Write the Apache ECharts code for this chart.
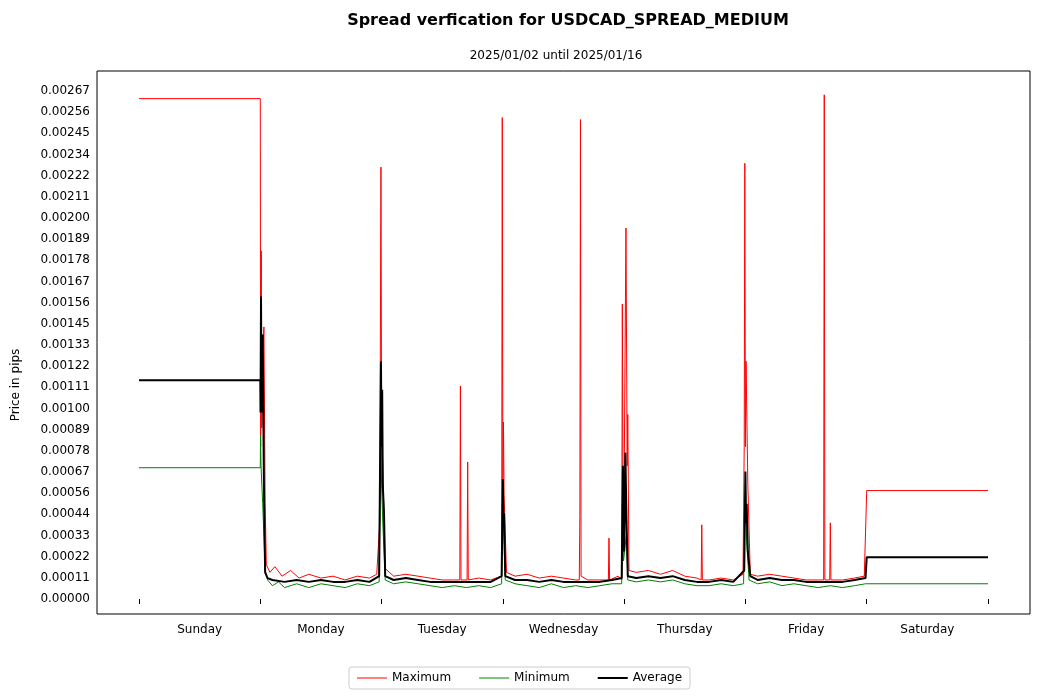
<!DOCTYPE html>
<html><head><meta charset="utf-8">
<script src="https://cdn.jsdelivr.net/npm/echarts@6/dist/echarts.min.js"></script>
<style>html,body{margin:0;background:#fff}#c{width:1039px;height:700px}</style>
</head><body><div id="c"></div>
<script>
const days = ['Sunday','Monday','Tuesday','Wednesday','Thursday','Friday','Saturday'];
const tickLabels = ['0.00000','0.00011','0.00022','0.00033','0.00044','0.00056','0.00067','0.00078','0.00089','0.00100','0.00111','0.00122','0.00133','0.00145','0.00156','0.00167','0.00178','0.00189','0.00200','0.00211','0.00222','0.00234','0.00245','0.00256','0.00267'];
const maxData = [[0,0.00263],[1.0,0.00263],[1.003,0.0008],[1.008,0.00183],[1.012,0.0009],[1.02,0.0013],[1.03,0.00143],[1.04,0.0005],[1.05,0.00018],[1.08,0.00014],[1.12,0.00017],[1.18,0.00012],[1.25,0.00015],[1.32,0.00011],[1.4,0.00013],[1.5,0.00011],[1.6,0.00012],[1.7,0.0001],[1.8,0.00012],[1.9,0.00011],[1.96,0.00013],[1.985,0.0004],[1.995,0.00227],[2.0,0.0009],[2.01,0.0007],[2.03,0.00016],[2.1,0.00012],[2.2,0.00013],[2.3,0.00012],[2.4,0.00011],[2.5,0.0001],[2.6,0.0001],[2.645,0.0001],[2.65,0.00112],[2.655,0.0001],[2.705,0.0001],[2.71,0.00072],[2.715,0.0001],[2.8,0.00011],[2.9,0.0001],[2.99,0.00012],[2.995,0.00253],[3.0,0.0006],[3.005,0.00093],[3.01,0.00055],[3.03,0.00014],[3.1,0.00012],[3.2,0.00013],[3.3,0.00011],[3.4,0.00012],[3.5,0.00011],[3.6,0.0001],[3.63,0.0001],[3.635,0.00044],[3.64,0.00252],[3.645,0.00012],[3.7,0.0001],[3.8,0.0001],[3.87,0.0001],[3.875,0.00032],[3.88,0.0001],[3.95,0.00012],[3.98,0.0001],[3.985,0.00155],[3.99,0.0007],[4.0,0.0006],[4.015,0.00195],[4.025,0.0007],[4.03,0.00097],[4.04,0.00015],[4.1,0.00014],[4.2,0.00015],[4.3,0.00013],[4.4,0.00015],[4.5,0.00012],[4.6,0.00011],[4.635,0.0001],[4.64,0.00039],[4.645,0.0001],[4.7,0.0001],[4.8,0.00011],[4.9,0.0001],[4.98,0.00013],[4.99,0.0008],[4.995,0.00229],[5.0,0.0008],[5.005,0.00125],[5.02,0.0006],[5.04,0.00013],[5.1,0.00012],[5.2,0.00013],[5.3,0.00012],[5.4,0.00011],[5.5,0.0001],[5.6,0.0001],[5.645,0.0001],[5.65,0.00265],[5.655,0.0001],[5.695,0.0001],[5.7,0.0004],[5.705,0.0001],[5.8,0.0001],[5.9,0.00011],[5.98,0.00012],[6.0,0.00057],[7,0.00057]];
const minData = [[0,0.00069],[1.0,0.00069],[1.002,0.00086],[1.006,0.0007],[1.02,0.0005],[1.04,0.00015],[1.06,0.0001],[1.1,0.00007],[1.15,0.00009],[1.2,0.00006],[1.3,0.00008],[1.4,0.00006],[1.5,0.00008],[1.6,0.00007],[1.7,0.00006],[1.8,0.00008],[1.9,0.00007],[1.98,0.00009],[1.995,0.0009],[2.0,0.0006],[2.01,0.0004],[2.03,0.0001],[2.1,0.00008],[2.2,0.00009],[2.3,0.00008],[2.4,0.00007],[2.5,0.00006],[2.6,0.00007],[2.7,0.00006],[2.8,0.00007],[2.9,0.00006],[2.99,0.00008],[2.995,0.0005],[3.005,0.0004],[3.02,0.0001],[3.1,0.00008],[3.2,0.00007],[3.3,0.00006],[3.4,0.00008],[3.5,0.00006],[3.6,0.00007],[3.7,0.00006],[3.8,0.00007],[3.9,0.00008],[3.98,0.00008],[3.985,0.0005],[3.995,0.0002],[4.02,0.00035],[4.03,0.0001],[4.1,0.00009],[4.2,0.0001],[4.3,0.00009],[4.4,0.0001],[4.5,0.00008],[4.6,0.00007],[4.7,0.00007],[4.8,0.00008],[4.9,0.00007],[4.985,0.00008],[4.99,0.0003],[5.0,0.0006],[5.01,0.0003],[5.03,0.0001],[5.1,0.00008],[5.2,0.00009],[5.3,0.00007],[5.4,0.00008],[5.5,0.00007],[5.6,0.00006],[5.7,0.00007],[5.8,0.00006],[5.9,0.00007],[5.99,0.00008],[7,0.00008]];
const avgData = [[0,0.00115],[1.0,0.00115],[1.002,0.00098],[1.006,0.00159],[1.01,0.00098],[1.015,0.0011],[1.02,0.00139],[1.03,0.0006],[1.04,0.00014],[1.06,0.00011],[1.1,0.0001],[1.2,0.00009],[1.3,0.0001],[1.4,0.00009],[1.5,0.0001],[1.6,0.00009],[1.7,0.00009],[1.8,0.0001],[1.9,0.00009],[1.98,0.00012],[1.995,0.00125],[2.0,0.0008],[2.005,0.0011],[2.01,0.0006],[2.02,0.00045],[2.03,0.00012],[2.1,0.0001],[2.2,0.00011],[2.3,0.0001],[2.4,0.00009],[2.5,0.00009],[2.6,0.00009],[2.7,0.00009],[2.8,0.00009],[2.9,0.00009],[2.99,0.00012],[3.0,0.00063],[3.005,0.0004],[3.01,0.00045],[3.02,0.00012],[3.1,0.0001],[3.2,0.0001],[3.3,0.00009],[3.4,0.0001],[3.5,0.00009],[3.6,0.00009],[3.7,0.00009],[3.8,0.00009],[3.9,0.0001],[3.98,0.00011],[3.99,0.0007],[4.0,0.00025],[4.01,0.00077],[4.02,0.0004],[4.03,0.00012],[4.1,0.00011],[4.2,0.00012],[4.3,0.00011],[4.4,0.00012],[4.5,0.0001],[4.6,0.00009],[4.7,0.00009],[4.8,0.0001],[4.9,0.00009],[4.99,0.00015],[5.0,0.00067],[5.005,0.0004],[5.01,0.0005],[5.02,0.00025],[5.04,0.00012],[5.1,0.0001],[5.2,0.00011],[5.3,0.0001],[5.4,0.0001],[5.5,0.00009],[5.6,0.00009],[5.7,0.00009],[5.8,0.00009],[5.9,0.0001],[5.99,0.00011],[6.0,0.00022],[7,0.00022]];

const yStep = 0.00267/24;
const chart = echarts.init(document.getElementById('c'));
const F = 'DejaVu Sans';
chart.setOption({
  animation:false,
  textStyle:{fontFamily:F},
  title:[{text:'Spread verfication for USDCAD_SPREAD_MEDIUM',left:563,textAlign:'center',top:8,textStyle:{fontSize:16,fontWeight:'bold',color:'#000',fontFamily:F}},
         {text:'2025/01/02 until 2025/01/16',left:551,textAlign:'center',top:45,textStyle:{fontSize:12,fontWeight:'normal',color:'#000',fontFamily:F}}],
  grid:{left:139,right:51,top:91,bottom:101},
  graphic:[{type:'rect',shape:{x:97,y:71,width:933,height:543},style:{fill:'none',stroke:'#000',lineWidth:1},z:100},
           {type:'text',x:10,y:385,rotation:Math.PI/2,style:{text:'Price in pips',font:'12px DejaVu Sans',fill:'#000',align:'center',verticalAlign:'top'}}],
  xAxis:[{type:'value',min:0,max:7,interval:1,position:'bottom',offset:15,axisLine:{show:false},axisTick:{length:5,lineStyle:{color:'#000'}},axisLabel:{show:false},splitLine:{show:false}},
         {type:'value',min:0,max:7,interval:0.5,position:'bottom',offset:15,axisLine:{show:false},axisTick:{show:false},splitLine:{show:false},
          axisLabel:{margin:10,fontSize:12,color:'#000',formatter:v=>{const i=Math.floor(v);return (v-i)>0.25&&i<7?days[i]:'';}}}],
  yAxis:{type:'value',min:0,max:0.00267,interval:yStep,offset:42,axisLine:{show:false},axisTick:{show:false},splitLine:{show:false},
    axisLabel:{fontSize:12,color:'#000',margin:7,formatter:v=>tickLabels[Math.round(v/yStep)]||''}},
  legend:{bottom:11,left:'center',itemWidth:30,itemHeight:14,itemGap:28,borderColor:'#ccc',borderWidth:1,borderRadius:3,padding:[5,8],
    textStyle:{fontSize:12,color:'#000'},
    data:[{name:'Maximum',icon:'path://M0,6H30V7H0Z'},{name:'Minimum',icon:'path://M0,6H30V7H0Z'},{name:'Average',icon:'path://M0,5.5H30V7.5H0Z'}]},
  series:[
    {name:'Maximum',type:'line',data:maxData,symbol:'none',lineStyle:{color:'#ff0000',width:1},itemStyle:{color:'#ff0000'}},
    {name:'Minimum',type:'line',data:minData,symbol:'none',lineStyle:{color:'#008000',width:1},itemStyle:{color:'#008000'}},
    {name:'Average',type:'line',data:avgData,symbol:'none',lineStyle:{color:'#000',width:2},itemStyle:{color:'#000'}}
  ]
});
</script></body></html>
